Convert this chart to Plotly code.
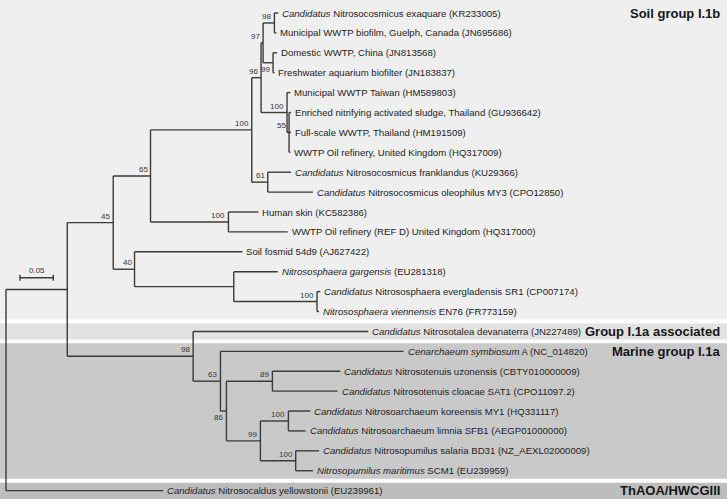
import plotly.graph_objects as go

# leaves, top to bottom
leaf_ids = [
    "exaquare", "guelph", "domestic", "aquarium", "taiwan", "enriched",
    "fullscale", "oil_uk", "franklandus", "oleophilus", "skin", "refd",
    "fosmid", "gargensis", "evergladensis", "viennensis", "devanaterra",
    "cenarchaeum", "uzonensis", "cloacae", "koreensis", "limnia",
    "salaria", "maritimus", "yellowstonii",
]
leaf_labels = [
    "<i>Candidatus</i> Nitrosocosmicus exaquare (KR233005)",
    "Municipal WWTP biofilm, Guelph, Canada (JN695686)",
    "Domestic WWTP, China (JN813568)",
    "Freshwater aquarium biofilter (JN183837)",
    "Municipal WWTP Taiwan (HM589803)",
    "Enriched nitrifying activated sludge, Thailand (GU936642)",
    "Full-scale WWTP, Thailand (HM191509)",
    "WWTP Oil refinery, United Kingdom (HQ317009)",
    "<i>Candidatus</i> Nitrosocosmicus franklandus (KU29366)",
    "<i>Candidatus</i> Nitrosocosmicus oleophilus MY3 (CPO12850)",
    "Human skin (KC582386)",
    "WWTP Oil refinery (REF D) United Kingdom (HQ317000)",
    "Soil fosmid 54d9 (AJ627422)",
    "<i>Nitrososphaera gargensis</i> (EU281318)",
    "<i>Candidatus</i> Nitrososphaera evergladensis SR1 (CP007174)",
    "<i>Nitrososphaera viennensis</i> EN76 (FR773159)",
    "<i>Candidatus</i> Nitrosotalea devanaterra (JN227489)",
    "<i>Cenarchaeum symbiosum</i> A (NC_014820)",
    "<i>Candidatus</i> Nitrosotenuis uzonensis (CBTY010000009)",
    "<i>Candidatus</i> Nitrosotenuis cloacae SAT1 (CPO11097.2)",
    "<i>Candidatus</i> Nitrosoarchaeum koreensis MY1 (HQ331117)",
    "<i>Candidatus</i> Nitrosoarchaeum limnia SFB1 (AEGP01000000)",
    "<i>Candidatus</i> Nitrosopumilus salaria BD31 (NZ_AEXL02000009)",
    "<i>Nitrosopumilus maritimus</i> SCM1 (EU239959)",
    "<i>Candidatus</i> Nitrosocaldus yellowstonii (EU239961)",
]

# tree: node, parent, branch length (substitutions per site)
node_names = [
    "ingroup", "yellowstonii",
    "n45", "n98b",
    "n65", "n40",
    "n100a", "n100b",
    "n96", "n61",
    "n97", "n100c",
    "n98", "n99",
    "exaquare", "guelph", "domestic", "aquarium",
    "taiwan", "n55", "enriched", "fullscale", "oil_uk",
    "franklandus", "oleophilus",
    "skin", "refd",
    "fosmid", "ng",
    "gargensis", "n100d", "evergladensis", "viennensis",
    "devanaterra", "n63",
    "cenarchaeum", "n86",
    "n89", "n99b",
    "uzonensis", "cloacae",
    "n100e", "n100f",
    "koreensis", "limnia", "salaria", "maritimus",
]
node_parents = [
    "root", "root",
    "ingroup", "ingroup",
    "n45", "n45",
    "n65", "n65",
    "n100a", "n100a",
    "n96", "n96",
    "n97", "n97",
    "n98", "n98", "n99", "n99",
    "n100c", "n100c", "n55", "n55", "n55",
    "n61", "n61",
    "n100b", "n100b",
    "n40", "n40",
    "ng", "ng", "n100d", "n100d",
    "n98b", "n98b",
    "n63", "n63",
    "n86", "n86",
    "n89", "n89",
    "n99b", "n99b",
    "n100e", "n100e", "n100f", "n100f",
]
branch_lengths = [
    0.092, 0.236,
    0.069, 0.189,
    0.056, 0.032,
    0.152, 0.117,
    0.014, 0.024,
    0.003, 0.039,
    0.017, 0.015,
    0.006, 0.003, 0.006, 0.002,
    0.005, 0.003, 0.003, 0.003, 0.002,
    0.035, 0.068,
    0.045, 0.089,
    0.162, 0.149,
    0.066, 0.125, 0.005, 0.003,
    0.263, 0.041,
    0.275, 0.009,
    0.069, 0.051,
    0.102, 0.098,
    0.042, 0.053,
    0.033, 0.026, 0.035, 0.026,
]

# bootstrap support
support = {
    "n98": 98, "n97": 97, "n99": 99, "n96": 96, "n100c": 100, "n55": 55,
    "n100a": 100, "n61": 61, "n65": 65, "n100b": 100, "n45": 45, "n40": 40,
    "n100d": 100, "n98b": 98, "n63": 63, "n89": 89, "n86": 86, "n99b": 99,
    "n100e": 100, "n100f": 100,
}
support_below = ["n99", "n86"]

# clade bands: name, first leaf, last leaf, colour
group_names = ["Soil group I.1b", "Group I.1a associated", "Marine group I.1a", "ThAOA/HWCGIII"]
group_first = [0, 16, 17, 24]
group_last = [15, 16, 23, 24]
group_colors = ["#efefef", "#e2e2e2", "#c9c9c9", "#bdbdbd"]

length_of = dict(zip(node_names, branch_lengths))
children = {}
for n, p in zip(node_names, node_parents):
    children.setdefault(p, []).append(n)

x_pos = {"root": 0.0}


def place_x(n):
    for c in children.get(n, []):
        x_pos[c] = x_pos[n] + length_of[c]
        place_x(c)


place_x("root")

y_pos = {leaf: i for i, leaf in enumerate(leaf_ids)}


def place_y(n):
    if n in y_pos:
        return y_pos[n]
    ys = [place_y(c) for c in children[n]]
    y_pos[n] = (min(ys) + max(ys)) / 2
    return y_pos[n]


place_y("root")

xs, ys = [], []
for n, p in zip(node_names, node_parents):
    xs += [x_pos[p], x_pos[n], None]
    ys += [y_pos[n], y_pos[n], None]
for n, kids in children.items():
    cy = [y_pos[c] for c in kids]
    xs += [x_pos[n], x_pos[n], None]
    ys += [min(cy), max(cy), None]

fig = go.Figure()

n_leaves = len(leaf_ids)
for i, name in enumerate(group_names):
    top = -2 if group_first[i] == 0 else group_first[i] - 0.5 + 0.1
    bottom = n_leaves + 1 if group_last[i] == n_leaves - 1 else group_last[i] + 0.5 - 0.1
    fig.add_shape(type="rect", xref="paper", x0=0, x1=1, y0=top, y1=bottom,
                  fillcolor=group_colors[i], line_width=0, layer="below")
    label_y = group_first[i]
    fig.add_annotation(x=1, xref="paper", y=label_y, text="<b>%s</b>" % name,
                       xanchor="right", yanchor="middle", xshift=-5, showarrow=False,
                       font=dict(size=13, color="#161616"))

fig.add_trace(go.Scatter(x=xs, y=ys, mode="lines", hoverinfo="skip",
                         line=dict(color="#3a3a3a", width=1.4)))

for leaf, label in zip(leaf_ids, leaf_labels):
    fig.add_annotation(x=x_pos[leaf], y=y_pos[leaf], text=label, xanchor="left",
                       yanchor="middle", xshift=2, showarrow=False,
                       font=dict(size=9.6, color="#222222"))

for n, s in support.items():
    below = n in support_below
    fig.add_annotation(x=x_pos[n], y=y_pos[n], text=str(s), xanchor="right",
                       yanchor="top" if below else "bottom", xshift=-1,
                       yshift=0, showarrow=False,
                       font=dict(size=8, color="#333333"))

# scale bar
scale_len = 0.05
scale_x0 = 0.021
scale_y = 13.3
fig.add_trace(go.Scatter(x=[scale_x0, scale_x0 + scale_len, None, scale_x0, scale_x0, None,
                            scale_x0 + scale_len, scale_x0 + scale_len],
                         y=[scale_y, scale_y, None, scale_y - 0.15, scale_y + 0.15, None,
                            scale_y - 0.15, scale_y + 0.15],
                         mode="lines", hoverinfo="skip",
                         line=dict(color="#3a3a3a", width=1.4)))
fig.add_annotation(x=scale_x0 + scale_len / 2, y=scale_y, text=str(scale_len),
                   yanchor="bottom", yshift=1, showarrow=False,
                   font=dict(size=8, color="#333333"))

fig.update_layout(
    width=727, height=499,
    margin=dict(l=0, r=0, t=0, b=0),
    paper_bgcolor="white", plot_bgcolor="rgba(0,0,0,0)",
    showlegend=False,
    font=dict(family="Liberation Sans, Arial, sans-serif"),
    xaxis=dict(range=[-0.009, 1.0826], visible=False, fixedrange=True),
    yaxis=dict(range=[24.42, -0.653], visible=False, fixedrange=True),
)

fig.write_html("out.html", config={"displayModeBar": False},
               post_script="document.body.style.margin='0px';")
